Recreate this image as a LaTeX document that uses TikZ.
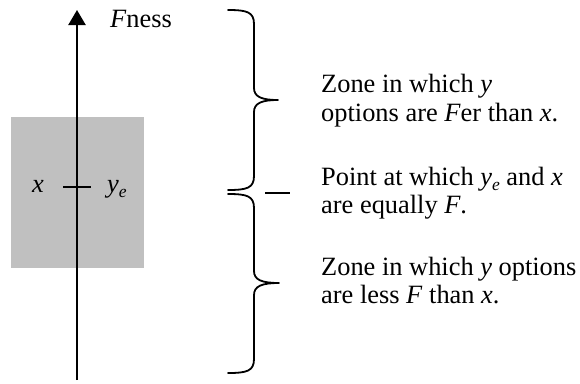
\documentclass[tikz,border=0pt]{standalone}
\usepackage{fontspec}
\setmainfont{Liberation Serif}
\usetikzlibrary{arrows.meta}
\begin{document}
\begin{tikzpicture}[x=1pt,y=-1pt,
  lbl/.style={inner sep=0pt,anchor=base west,font=\fontsize{26.4}{29}\selectfont},
  brace/.style={line width=1.8pt,line join=round,line cap=round},
  axisline/.style={line width=2.3pt,-{Triangle[length=15pt,width=17pt]}}]
\useasboundingbox (0,0) rectangle (580,383);
\fill[fill={rgb,255:red,192;green,192;blue,192}] (11,117) rectangle (144,268);
\coordinate (abot) at (77,380);
\coordinate (atop) at (77,10);
\draw[axisline] (abot) -- (atop);
\coordinate (tl) at (63,187);
\coordinate (tr) at (91,187);
\draw[line width=2pt] (tl) -- (tr);
\node[lbl,anchor=base] (xl) at (38,192) {\itshape x};
\node[lbl] (yl) at (107,192) {\itshape y\raisebox{-0.22em}{\fontsize{17.5}{17.5}\selectfont e}};
\node[lbl] (fness) at (110,27) {\itshape F\upshape ness};
% upper brace
\draw[brace] (228,10) .. controls (247,10) and (254,12) .. (254,24) -- (254,88)
  .. controls (254,97) and (262,100) .. (278,100)
  .. controls (262,100) and (254,103) .. (254,112) -- (254,176)
  .. controls (254,188) and (247,190) .. (228,190);
% lower brace
\draw[brace] (228,194) .. controls (247,194) and (254,196) .. (254,208) -- (254,271)
  .. controls (254,280) and (262,283) .. (279,283)
  .. controls (262,283) and (254,286) .. (254,295) -- (254,359)
  .. controls (254,371) and (247,373) .. (228,373);
\coordinate (dl) at (265,193);
\coordinate (dr) at (290,193);
\draw[line width=1.4pt] (dl) -- (dr);
\node[lbl] (t1a) at (321,92) {Zone in which \textit{y}};
\node[lbl] (t1b) at (321,121) {options are \textit{F}er than \textit{x}.};
\node[lbl] (t2a) at (321,185) {Point at which \textit{y}\raisebox{-0.22em}{\fontsize{17.5}{17.5}\selectfont\itshape e} and \textit{x}};
\node[lbl] (t2b) at (321,213) {are equally \textit{F}.};
\node[lbl] (t3a) at (321,275) {Zone in which \textit{y} options};
\node[lbl] (t3b) at (321,303) {are less \textit{F} than \textit{x}.};
\end{tikzpicture}
\end{document}
